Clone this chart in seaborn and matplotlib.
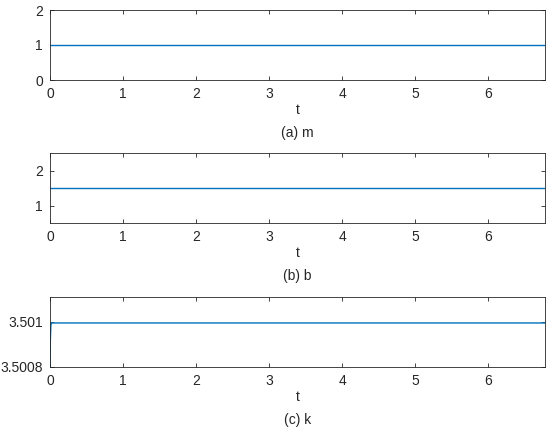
import matplotlib
matplotlib.use("Agg")
import matplotlib.pyplot as plt
import pandas as pd
import seaborn as sns

# data
t_m = [0, 6.78]
m_vals = [1.0, 1.0]

t_b = [0, 6.78]
b_vals = [1.5, 1.5]

t_k = [0, 0.005, 0.012, 0.02, 0.03, 6.78]
k_vals = [3.5008, 3.50092, 3.500985, 3.500995, 3.500995, 3.500995]

panels = [
    ("(a) m", t_m, m_vals, (0, 2), [0, 1, 2], ["0", "1", "2"]),
    ("(b) b", t_b, b_vals, (0.5, 2.5), [1, 2], ["1", "2"]),
    ("(c) k", t_k, k_vals, (3.5008, 3.50111), [3.5008, 3.501], ["3.5008", "3.501"]),
]

sns.set_style("ticks")
plt.rcParams["font.family"] = ["Liberation Sans", "DejaVu Sans"]
plt.rcParams["font.size"] = 10

fig = plt.figure(figsize=(5.5, 4.32), dpi=100)
tops = [10, 153, 297]
H, W = 432, 550
for (title, t, v, ylim, yt, ytl), top in zip(panels, tops):
    ax = fig.add_axes([50 / W, 1 - (top + 70) / H, 495 / W, 70 / H])
    df = pd.DataFrame({"t": t, "v": v})
    sns.lineplot(data=df, x="t", y="v", ax=ax, color="#0072BD", linewidth=1.0)
    ax.set_xlim(0, 6.78)
    ax.set_ylim(*ylim)
    ax.set_xticks(range(7))
    ax.set_yticks(yt)
    ax.set_yticklabels(ytl)
    ax.tick_params(direction="in", top=True, right=True, length=3, width=0.6,
                   color="#262626", labelcolor="#262626", labelsize=10, pad=5)
    for s in ax.spines.values():
        s.set_color("#262626")
        s.set_linewidth(0.6)
    ax.set_ylabel("")
    ax.set_xlabel("t", fontsize=10, color="#262626", labelpad=1.5)
    ax.text(0.5, -0.66, title, transform=ax.transAxes, ha="center", va="top",
            fontsize=10, color="#262626")

fig.savefig("out.png", dpi=100)
